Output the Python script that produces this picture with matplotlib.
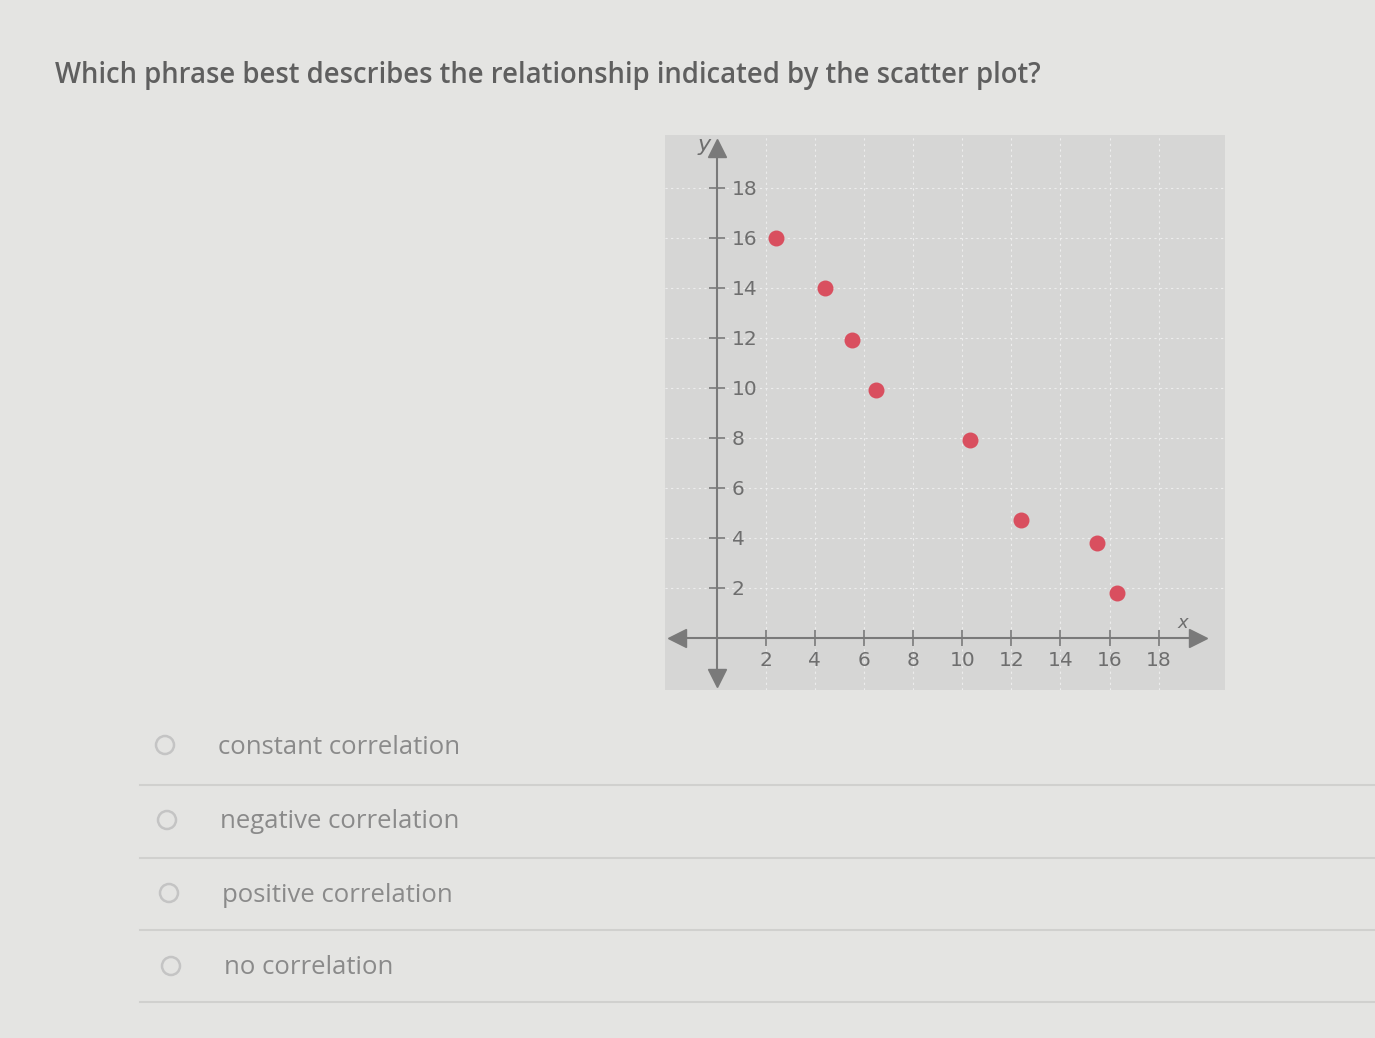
import matplotlib.pyplot as plt
from matplotlib.patches import Ellipse
from matplotlib.lines import Line2D

# ---------- データ ----------
question = "Which phrase best describes the relationship indicated by the scatter plot?"
options = ["constant correlation", "negative correlation",
           "positive correlation", "no correlation"]

x_vals = [2.4, 4.4, 5.5, 6.5, 10.3, 12.4, 15.5, 16.3]
y_vals = [16.0, 14.0, 11.9, 9.9, 7.9, 4.7, 3.8, 1.8]

x_ticks = [2, 4, 6, 8, 10, 12, 14, 16, 18]
y_ticks = [2, 4, 6, 8, 10, 12, 14, 16, 18]

# ---------- 色 ----------
BG = "#e4e4e2"
PANEL = "#d6d6d5"
TXT = "#6e6e6e"
AXIS = "#7a7a7a"
DOT = "#d94f5f"

W, H = 1375, 1038
fig = plt.figure(figsize=(W / 100, H / 100), dpi=100, facecolor=BG)

def fx(px):
    return px / W

def fy(py):
    return 1 - py / H

# 問題文
fig.text(fx(55), fy(75), question, fontsize=19.8, color="#5f5f5f",
         family="Open Sans", fontweight="semibold", va="center", ha="left")

# ---------- 散布図 ----------
ax = fig.add_axes([fx(665), fy(690), (1225 - 665) / W, (690 - 135) / H])
ax.set_facecolor(PANEL)
ax.set_xlim(-2.1, 20.7)
ax.set_ylim(-2.1, 20.1)

for v in x_ticks:
    ax.axvline(v, color="#ededed", lw=0.8, ls=(0, (2, 3)), zorder=1)
for v in y_ticks:
    ax.axhline(v, color="#ededed", lw=0.8, ls=(0, (2, 3)), zorder=1)

for s in ["top", "right"]:
    ax.spines[s].set_visible(False)
ax.spines["left"].set_position(("data", 0))
ax.spines["bottom"].set_position(("data", 0))
for s in ["left", "bottom"]:
    ax.spines[s].set_color(AXIS)
    ax.spines[s].set_linewidth(1.5)
ax.spines["left"].set_bounds(-1.6, 19.6)
ax.spines["bottom"].set_bounds(-1.6, 19.6)

ax.set_xticks(x_ticks)
ax.set_yticks(y_ticks)
ax.tick_params(axis="both", direction="inout", length=12, width=1.2,
               color=AXIS, labelcolor=TXT, labelsize=14.5)
ax.tick_params(axis="y", pad=-17)
for lab in ax.get_yticklabels():
    lab.set_horizontalalignment("left")

# 矢印
ax.plot([19.6], [0], marker=">", ms=13, color=AXIS, clip_on=False, zorder=4)
ax.plot([-1.6], [0], marker="<", ms=13, color=AXIS, clip_on=False, zorder=4)
ax.plot([0], [19.6], marker="^", ms=13, color=AXIS, clip_on=False, zorder=4)
ax.plot([0], [-1.6], marker="v", ms=13, color=AXIS, clip_on=False, zorder=4)
ax.text(-0.5, 19.7, "y", fontsize=16, style="italic", color=TXT, ha="center", va="center")
ax.text(19.0, 0.6, "x", fontsize=13, style="italic", color=TXT, ha="center", va="center")

ax.scatter(x_vals, y_vals, s=110, color=DOT, zorder=5)

# ---------- 選択肢 ----------
row_y = [745, 820, 893, 966]
line_y = [785, 858, 930, 1002]
for i, (t, ry) in enumerate(zip(options, row_y)):
    fig.patches.append(Ellipse((fx(165 + i * 2), fy(ry)), 18 / W, 18 / H,
                               transform=fig.transFigure,
                               fill=False, edgecolor="#c4c4c4", lw=1.8))
    fig.text(fx(218 + i * 2), fy(ry + 2), t, fontsize=18.5, color="#8a8a8a",
             family="Open Sans", va="center", ha="left")
    fig.lines.append(Line2D([fx(140), 1.0], [fy(line_y[i]), fy(line_y[i])],
                            transform=fig.transFigure, color="#d0d0ce", lw=1.5))

fig.savefig("out.png", dpi=100, facecolor=BG)
